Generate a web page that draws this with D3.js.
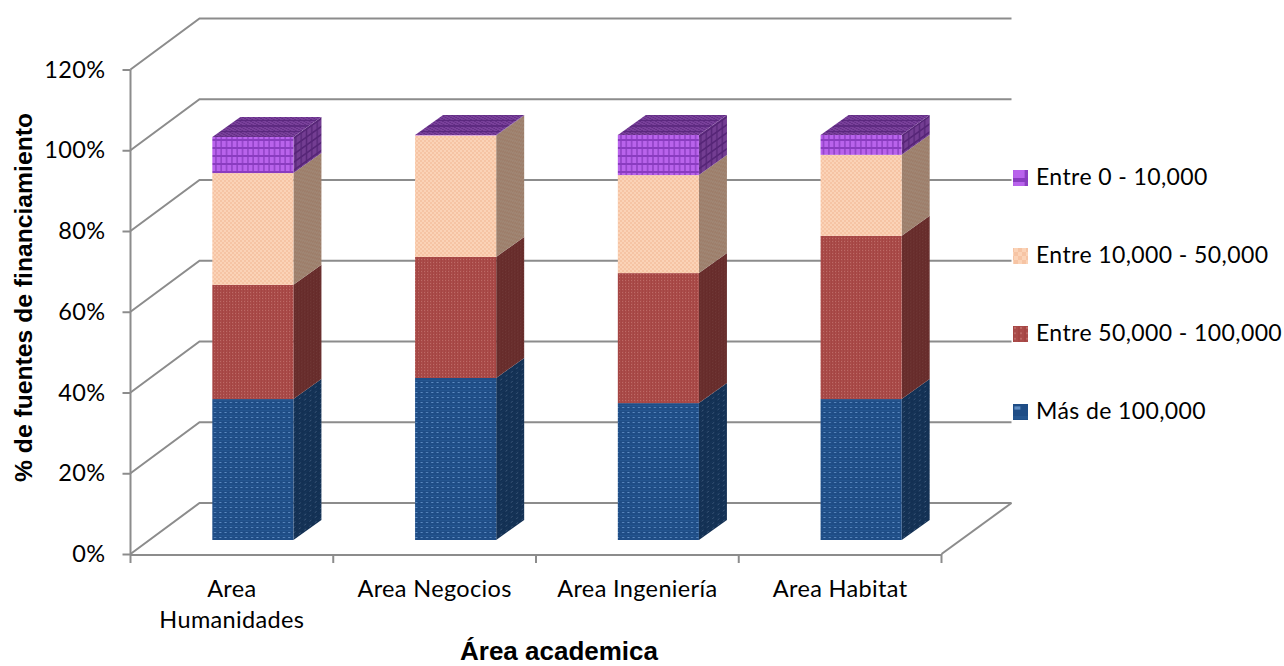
<!DOCTYPE html>
<html>
<head>
<meta charset="utf-8">
<script src="https://cdn.jsdelivr.net/npm/d3@7"></script>
<style>
  html, body { margin: 0; padding: 0; background: #fff; }
  svg { display: block; }
  text { fill: #000; }
</style>
</head>
<body>
<svg id="chart" width="1284" height="666"></svg>
<script>
// Funding-source share by academic area, in percent.
const categories = ["Area Humanidades", "Area Negocios", "Area Ingeniería", "Area Habitat"];
const seriesNames = ["Más de 100,000", "Entre 50,000 - 100,000", "Entre 10,000 - 50,000", "Entre 0 - 10,000"];
const masDe100k = [34.8, 40.0, 33.8, 34.8];
const entre50k100k = [28.2, 29.9, 32.1, 40.3];
const entre10k50k = [27.6, 30.0, 24.2, 20.0];
const entre0k10k = [8.9, 0.1, 9.9, 4.9];
const yTickValues = [0, 20, 40, 60, 80, 100, 120];
const yAxisTitle = "% de fuentes de financiamiento";
const xAxisTitle = "Área academica";

const seriesValues = [masDe100k, entre50k100k, entre10k50k, entre0k10k];
const rows = categories.map((c, i) => {
  const r = { category: c };
  seriesNames.forEach((s, k) => { r[s] = seriesValues[k][i]; });
  return r;
});
const stacked = d3.stack().keys(seriesNames)(rows);

const svg = d3.select("#chart");
const defs = svg.append("defs");

// Projection of the 3D box: wall depth and bar depth.
const wall = { dx: 69, dy: -51 };
const barDepth = { dx: 28, dy: -20 };
const plot = { left: 130.5, right: 941.5, bottom: 554, top: 69.5 };
const barFloorY = 540, barFullY = 135, barShiftX = 21;

const y = d3.scaleLinear().domain([0, 120]).range([plot.bottom, plot.top]);
const yBar = d3.scaleLinear().domain([0, 100]).range([barFloorY, barFullY]);
const x = d3.scaleBand().domain(categories).range([plot.left, plot.right]).paddingInner(0).paddingOuter(0);
const barWidth = x.bandwidth() * 0.4;
const barLeft = c => x(c) + x.bandwidth() / 2 - barWidth / 2 + barShiftX;

// Fill textures: each is a small tile of rectangles over a base colour.
const textures = {
  "Más de 100,000": { w: 5.3, h: 5, base: "#1f4d86", rects: [[2, 2, 2, 1, "#5f8dc4"], [0, 0, 5.3, 1, "#24558f"]] },
  "Entre 50,000 - 100,000": { w: 3, h: 3, base: "#a94b49", rects: [[1, 1, 1, 1, "#bd6a66"], [0, 0, 1, 3, "#a54543"]] },
  "Entre 10,000 - 50,000": { w: 4, h: 4, base: "#fbd3b7", rects: [[0, 0, 2, 2, "#f6c4a4"], [2, 2, 2, 2, "#f6c4a4"]] },
  "Entre 0 - 10,000": { w: 5.33, h: 8, base: "#b963ec", rects: [[2, 0, 1.4, 8, "#8c3fc2"], [0, 3, 5.33, 2, "#8a3cc0"]] }
};

function addPattern(id, tex, overlay, transform) {
  const p = defs.append("pattern").attr("id", id)
    .attr("patternUnits", "userSpaceOnUse")
    .attr("width", tex.w).attr("height", tex.h)
    .attr("patternTransform", transform);
  p.append("rect").attr("width", tex.w).attr("height", tex.h).attr("fill", tex.base);
  p.selectAll("rect.t").data(tex.rects).join("rect").attr("class", "t")
    .attr("x", d => d[0]).attr("y", d => d[1]).attr("width", d => d[2]).attr("height", d => d[3])
    .attr("fill", d => d[4]);
  if (overlay) p.append("rect").attr("width", tex.w).attr("height", tex.h).attr("fill", "#000").attr("fill-opacity", overlay);
}

const slope = barDepth.dy / barDepth.dx;
const legendScale = { 0: [3, 3.2], 1: [2, 1.8], 2: [2, 2], 3: [3, 2] };
const swatchTops = [404, 326, 248, 170];
seriesNames.forEach((s, k) => {
  addPattern(`front-${k}`, textures[s], 0, "");
  addPattern(`side-${k}`, textures[s], k === 2 ? 0.36 : 0.38, `matrix(1,${slope},0,1,0,0)`);
  addPattern(`top-${k}`, textures[s], 0.34, `matrix(1,0,${-1 / slope},0.7,0,0)`);
  addPattern(`legend-${k}`, textures[s], 0, `translate(1013,${swatchTops[k]}) scale(${legendScale[k][0]},${legendScale[k][1]})`);
});

// Back wall gridlines, with the diagonal running along the side wall.
const axisColor = "#8c8c8c";
const grid = svg.append("g").attr("fill", "none").attr("stroke", axisColor).attr("stroke-width", 2);
grid.selectAll("path").data(yTickValues).join("path")
  .attr("d", v => {
    const p = d3.path();
    p.moveTo(plot.left, y(v));
    p.lineTo(plot.left + wall.dx, y(v) + wall.dy);
    p.lineTo(plot.right + wall.dx + 1, y(v) + wall.dy);
    return p.toString();
  });
// Right edge of the floor.
grid.append("line")
  .attr("x1", plot.right).attr("y1", plot.bottom)
  .attr("x2", plot.right + wall.dx + 1).attr("y2", plot.bottom + wall.dy);

// Vertical axis with percentage labels.
const labelFont = "Lato";
const yAxis = svg.append("g").attr("transform", `translate(${plot.left},0)`)
  .call(d3.axisLeft(y).tickValues(yTickValues).tickSize(8).tickPadding(17).tickFormat(d => d + "%"));
yAxis.selectAll("path,line").attr("stroke", axisColor).attr("stroke-width", 2);
yAxis.select(".domain").attr("d", `M0,${y(120)}V${y(0)}`);
yAxis.selectAll("text").attr("font-family", labelFont).attr("font-size", 23.5)
  .attr("letter-spacing", 0.35).attr("fill", "#000");

// Horizontal axis: ticks sit on the category boundaries.
const xBase = svg.append("g").attr("stroke", axisColor).attr("stroke-width", 2);
xBase.append("line").attr("x1", plot.left).attr("x2", plot.right).attr("y1", plot.bottom + 1).attr("y2", plot.bottom + 1);
xBase.selectAll("line.edge").data(d3.range(categories.length + 1)).join("line").attr("class", "edge")
  .attr("x1", i => plot.left + i * x.step()).attr("x2", i => plot.left + i * x.step())
  .attr("y1", plot.bottom).attr("y2", plot.bottom + 9);

const xLabels = svg.append("g").attr("font-family", labelFont).attr("font-size", 23.5)
  .attr("letter-spacing", 0.35).attr("text-anchor", "middle");
xLabels.selectAll("text").data(categories).join("text")
  .attr("x", c => x(c) + x.bandwidth() / 2)
  .attr("y", 597)
  .each(function (c) {
    const words = c === "Area Humanidades" ? c.split(" ") : [c];
    d3.select(this).selectAll("tspan").data(words).join("tspan")
      .attr("x", x(c) + x.bandwidth() / 2)
      .attr("dy", (d, i) => i ? 31 : 0)
      .text(d => d);
  });

// Stacked boxes: side and front faces per series, then the top face.
const bars = svg.append("g");
stacked.forEach((layer, k) => {
  const g = bars.append("g");
  g.selectAll("path.side").data(layer).join("path").attr("class", "side")
    .attr("fill", `url(#side-${k})`)
    .attr("d", d => {
      const c = d.data.category, xr = barLeft(c) + barWidth;
      const p = d3.path();
      p.moveTo(xr, yBar(d[0]));
      p.lineTo(xr + barDepth.dx, yBar(d[0]) + barDepth.dy);
      p.lineTo(xr + barDepth.dx, yBar(d[1]) + barDepth.dy);
      p.lineTo(xr, yBar(d[1]));
      p.closePath();
      return p.toString();
    });
  g.selectAll("rect.front").data(layer).join("rect").attr("class", "front")
    .attr("fill", `url(#front-${k})`)
    .attr("x", d => barLeft(d.data.category))
    .attr("width", barWidth)
    .attr("y", d => yBar(d[1]))
    .attr("height", d => yBar(d[0]) - yBar(d[1]));
});
const topIndex = stacked.length - 1;
bars.append("g").selectAll("path").data(stacked[topIndex]).join("path")
  .attr("fill", `url(#top-${topIndex})`)
  .attr("d", d => {
    const l = barLeft(d.data.category), t = yBar(d[1]);
    const p = d3.path();
    p.moveTo(l, t);
    p.lineTo(l + barWidth, t);
    p.lineTo(l + barWidth + barDepth.dx, t + barDepth.dy);
    p.lineTo(l + barDepth.dx, t + barDepth.dy);
    p.closePath();
    return p.toString();
  });

// Legend, listed from the top series down.
const legendRowY = d3.scalePoint().domain(seriesNames.slice().reverse()).range([178, 412]);
const legend = svg.append("g").selectAll("g").data(seriesNames).join("g")
  .attr("transform", s => `translate(1013,${legendRowY(s)})`);
legend.append("rect").attr("x", 0).attr("y", -8).attr("width", 15).attr("height", 16)
  .attr("fill", (s, i) => `url(#legend-${i})`);
legend.append("text").attr("x", 23).attr("y", 7)
  .attr("font-family", labelFont).attr("font-size", 23).attr("letter-spacing", 0.4)
  .text(s => s);

// Axis titles.
svg.append("text").attr("x", 559).attr("y", 660).attr("text-anchor", "middle")
  .attr("font-family", "Liberation Sans").attr("font-weight", "bold").attr("font-size", 26)
  .text(xAxisTitle);
svg.append("text").attr("transform", "translate(32,297.5) rotate(-90)").attr("text-anchor", "middle")
  .attr("font-family", "Liberation Sans").attr("font-weight", "bold").attr("font-size", 24.7)
  .text(yAxisTitle);
</script>
</body>
</html>
